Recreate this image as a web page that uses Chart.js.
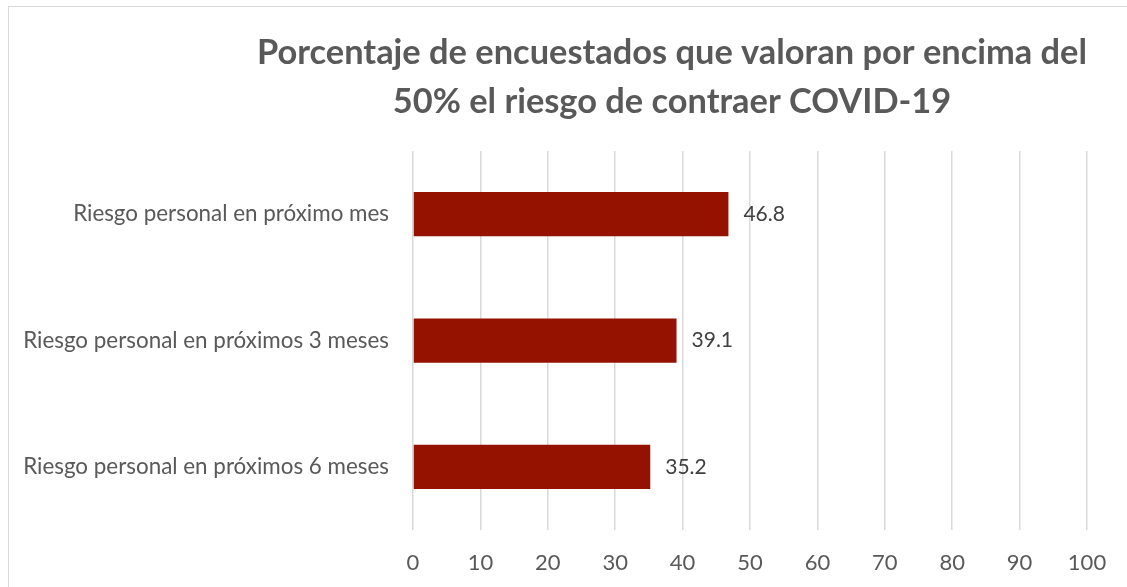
<!DOCTYPE html>
<html>
<head>
<meta charset="utf-8">
<script src="https://cdn.jsdelivr.net/npm/chart.js@4/dist/chart.umd.min.js"></script>
<style>
  html, body { margin: 0; padding: 0; background: #fff; overflow: hidden; }
  #frame { position: absolute; left: 8px; top: 6px; width: 1400px; height: 700px; border: 1px solid #d9d9d9; box-sizing: border-box; }
  #wrap { position: absolute; left: 0; top: 0; width: 1127px; height: 587px; }
</style>
</head>
<body>
<div id="frame"></div>
<div id="wrap"><canvas id="chartRiesgo"></canvas></div>
<script>
'use strict';

// Datos
const titulo = ['Porcentaje de encuestados que valoran por encima del', '50% el riesgo de contraer COVID-19'];
const categorias = [
  'Riesgo personal en próximo mes',
  'Riesgo personal en próximos 3 meses',
  'Riesgo personal en próximos 6 meses'
];
const valores = [46.8, 39.1, 35.2];
const ejeMin = 0;
const ejeMax = 100;
const ejePaso = 10;

const FONT = "Lato, 'Open Sans', sans-serif";

// Etiquetas de datos a la derecha de cada barra
const etiquetasBarras = {
  id: 'etiquetasBarras',
  afterDatasetsDraw(chart) {
    const ctx = chart.ctx;
    const meta = chart.getDatasetMeta(0);
    ctx.save();
    ctx.font = '21px ' + FONT;
    ctx.fillStyle = '#404040';
    ctx.textAlign = 'left';
    ctx.textBaseline = 'middle';
    meta.data.forEach((bar, i) => {
      ctx.fillText(valores[i].toFixed(1), bar.x + 15, bar.y);
    });
    ctx.restore();
  }
};

// El título del original está centrado sobre la zona derecha, no sobre todo el lienzo
const centrarTitulo = {
  id: 'centrarTitulo',
  afterLayout(chart) {
    const t = chart.titleBlock;
    if (!t) return;
    t.left = 257;
    t.right = chart.chartArea.right;
  }
};

const ctx = document.getElementById('chartRiesgo').getContext('2d');
new Chart(ctx, {
  type: 'bar',
  data: {
    labels: categorias,
    datasets: [{
      data: valores,
      backgroundColor: '#961200',
      borderWidth: 0,
      barPercentage: 0.35,
      categoryPercentage: 1
    }]
  },
  options: {
    indexAxis: 'y',
    responsive: true,
    maintainAspectRatio: false,
    animation: false,
    layout: { padding: { left: 0, right: 40, top: 0, bottom: 0 } },
    plugins: {
      legend: { display: false },
      tooltip: { enabled: false },
      title: {
        display: true,
        text: titulo,
        color: '#595959',
        font: { family: FONT, size: 34.4, weight: 'bold', lineHeight: 1.44 },
        padding: { top: 28, bottom: 24 }
      }
    },
    scales: {
      x: {
        min: ejeMin,
        max: ejeMax,
        border: { display: false },
        grid: { color: '#d9d9d9', lineWidth: 1.5, drawTicks: false },
        ticks: { stepSize: ejePaso, color: '#595959', font: { family: FONT, size: 22 }, padding: 20 },
        afterFit(scale) { scale.height = 57; }
      },
      y: {
        border: { display: false },
        grid: { display: false, drawTicks: false },
        ticks: { color: '#595959', font: { family: FONT, size: 22.4 }, padding: 24 },
        afterFit(scale) { scale.width = 413; }
      }
    }
  },
  plugins: [etiquetasBarras, centrarTitulo]
});
</script>
</body>
</html>
